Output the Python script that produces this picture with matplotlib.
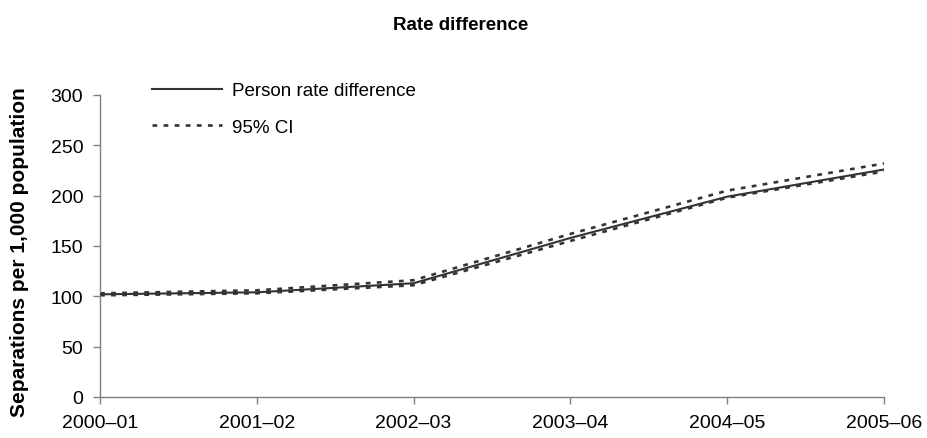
import matplotlib
matplotlib.use("Agg")
import matplotlib.pyplot as plt

# Financial years and rates (separations per 1,000 population)
years = ["2000–01", "2001–02", "2002–03", "2003–04", "2004–05", "2005–06"]
rate_diff = [102, 104, 113, 158, 199, 226]
ci_upper = [103, 106, 116, 162, 205, 232]
ci_lower = [101, 103, 111, 155, 198, 224]

plt.rcParams["font.family"] = ["Liberation Sans", "DejaVu Sans"]

W, H = 928, 439
fig = plt.figure(figsize=(W / 100, H / 100), dpi=100)
ax = fig.add_axes([100 / W, 1 - 398 / H, 784 / W, 302 / H])

x = list(range(len(years)))
line_col = "#333333"
dash = (0, (1.8, 2.4))
ax.plot(x, rate_diff, color=line_col, lw=1.5, label="Person rate difference", zorder=3)
ax.plot(x, ci_upper, color="#333333", lw=1.9, ls=dash, label="95% CI", zorder=2)
ax.plot(x, ci_lower, color="#333333", lw=1.9, ls=dash, zorder=2)

ax.set_xlim(0, len(years) - 1)
ax.set_ylim(0, 300)
ax.set_yticks(range(0, 301, 50))
ax.set_xticks(x)
ax.set_xticklabels(years)

for s in ("top", "right"):
    ax.spines[s].set_visible(False)
for s in ("left", "bottom"):
    ax.spines[s].set_color("#808080")
    ax.spines[s].set_linewidth(1.0)
ax.tick_params(axis="both", colors="#808080", labelcolor="black",
               labelsize=14, length=5, width=1.0, direction="out")
ax.tick_params(axis="x", pad=7)
ax.tick_params(axis="y", pad=7)

fig.text(20 / W, 1 - 252 / H, "Separations per 1,000 population", rotation=90,
         ha="center", va="center", fontsize=15, fontweight="bold")
fig.text(461 / W, 1 - 26 / H, "Rate difference", ha="center", va="center",
         fontsize=13.5, fontweight="bold")

ax.legend(loc="upper left", bbox_to_anchor=(152 / W, 1 - 83 / H),
          bbox_transform=fig.transFigure, frameon=False, borderpad=0,
          borderaxespad=0, fontsize=13.5, handlelength=3.75,
          handletextpad=0.5, labelspacing=1.05)

fig.savefig("out.png", dpi=100)
